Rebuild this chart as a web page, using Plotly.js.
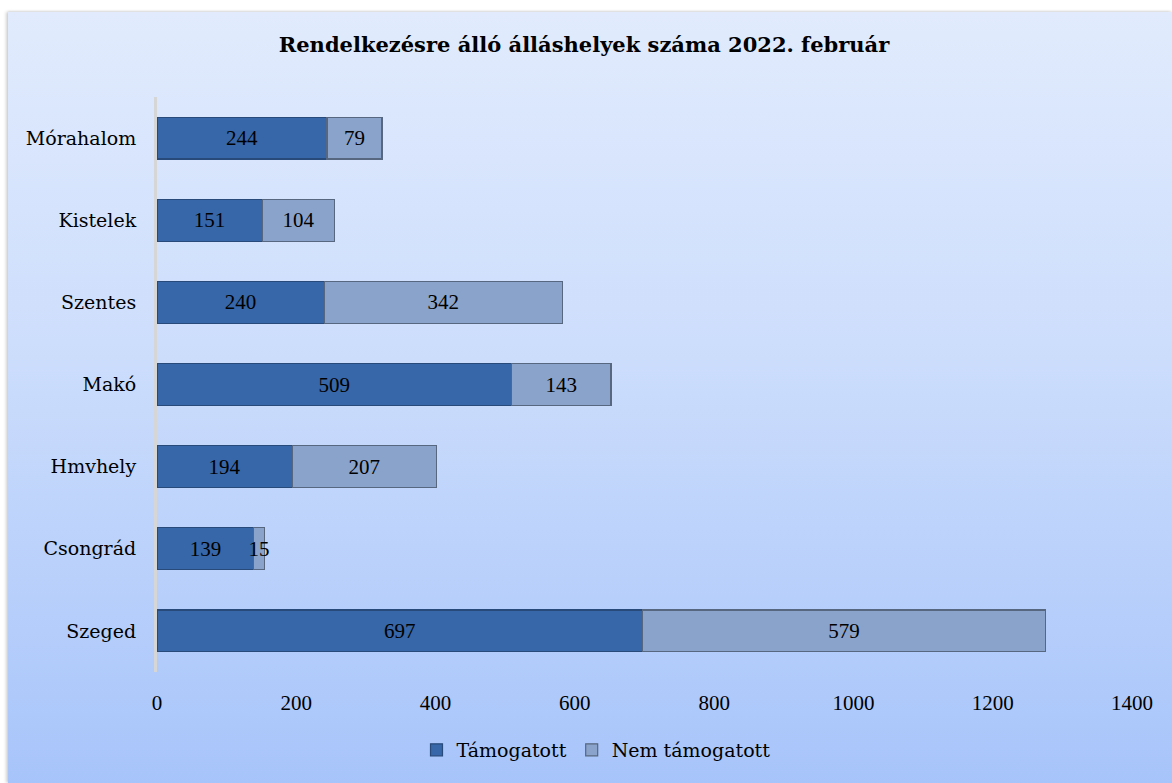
<!DOCTYPE html>
<html>
<head>
<meta charset="utf-8">
<script src="https://cdn.plot.ly/plotly-3.0.1.min.js"></script>
<style>
  html, body { margin: 0; padding: 0; background: #ffffff; }
  #frame {
    position: absolute; left: 8px; top: 12px; width: 1164px; height: 771px;
    background: linear-gradient(to bottom, #E1EBFD 0%, #CCDDFC 45%, #A7C4FA 100%);
    box-shadow: -2px 0 3px rgba(0,0,0,0.18), 0 -1px 2px rgba(0,0,0,0.08);
  }
  #chart { position: absolute; left: 0; top: 0; width: 1172px; height: 783px; }
</style>
</head>
<body>
<div id="frame"></div>
<div id="chart"></div>
<script>
// Categories from bottom to top
const categories = ['Szeged', 'Csongrád', 'Hmvhely', 'Makó', 'Szentes', 'Kistelek', 'Mórahalom'];
const tamogatott = [697, 139, 194, 509, 240, 151, 244];
const nemTamogatott = [579, 15, 207, 143, 342, 104, 79];
const seriesNames = ['Támogatott', 'Nem támogatott'];
const xTicks = [0, 200, 400, 600, 800, 1000, 1200, 1400];
const chartTitle = 'Rendelkezésre álló álláshelyek száma 2022. február';

const NUMFONT = 'Liberation Serif, Times New Roman, serif';
const TXTFONT = 'DejaVu Serif, serif';

const common = {
  type: 'bar',
  orientation: 'h',
  y: categories,
  textposition: 'inside',
  insidetextanchor: 'middle',
  textangle: 0,
  constraintext: 'none',
  textfont: { family: NUMFONT, size: 21, color: '#000000' },
  hoverinfo: 'x+y+name'
};

const traces = [
  Object.assign({}, common, {
    name: seriesNames[0],
    x: tamogatott,
    text: tamogatott.map(String),
    marker: { color: '#3767A8', line: { color: '#274A7A', width: 1.2 } }
  }),
  Object.assign({}, common, {
    name: seriesNames[1],
    x: nemTamogatott,
    text: nemTamogatott.map(String),
    marker: { color: '#8AA3CA', line: { color: '#56677F', width: 1.2 } }
  })
];

const layout = {
  width: 1172,
  height: 783,
  barmode: 'stack',
  bargap: 0.49,
  paper_bgcolor: 'rgba(0,0,0,0)',
  plot_bgcolor: 'rgba(0,0,0,0)',
  margin: { l: 157, r: 40, t: 97, b: 111 },
  font: { family: TXTFONT, size: 19, color: '#000000' },
  title: {
    text: '<b>' + chartTitle + '</b>',
    font: { family: TXTFONT, size: 21, color: '#000000' },
    x: 584 / 1172, xref: 'container', xanchor: 'center',
    y: 1 - 45 / 783, yref: 'container', yanchor: 'middle'
  },
  xaxis: {
    range: [0, 1400],
    tickvals: xTicks,
    ticktext: xTicks.map(String),
    showgrid: false,
    zeroline: false,
    showline: false,
    ticks: '',
    ticklabelstandoff: 16,
    tickfont: { family: NUMFONT, size: 21, color: '#000000' },
    fixedrange: true
  },
  yaxis: {
    type: 'category',
    categoryorder: 'array',
    categoryarray: categories,
    showgrid: false,
    zeroline: false,
    showline: true,
    linecolor: '#D6D6D6',
    linewidth: 3,
    ticks: '',
    ticklabelstandoff: 14,
    tickfont: { family: TXTFONT, size: 19, color: '#000000' },
    fixedrange: true
  },
  showlegend: true,
  legend: {
    orientation: 'h',
    xref: 'container', yref: 'container',
    x: 596 / 1172, xanchor: 'center',
    y: 1 - 750 / 783, yanchor: 'middle',
    font: { family: TXTFONT, size: 19, color: '#000000' },
    bgcolor: 'rgba(0,0,0,0)',
    traceorder: 'normal',
    itemwidth: 30,
    itemgap: 5
  }
};

Plotly.newPlot('chart', traces, layout, { displayModeBar: false, staticPlot: true });
</script>
</body>
</html>
